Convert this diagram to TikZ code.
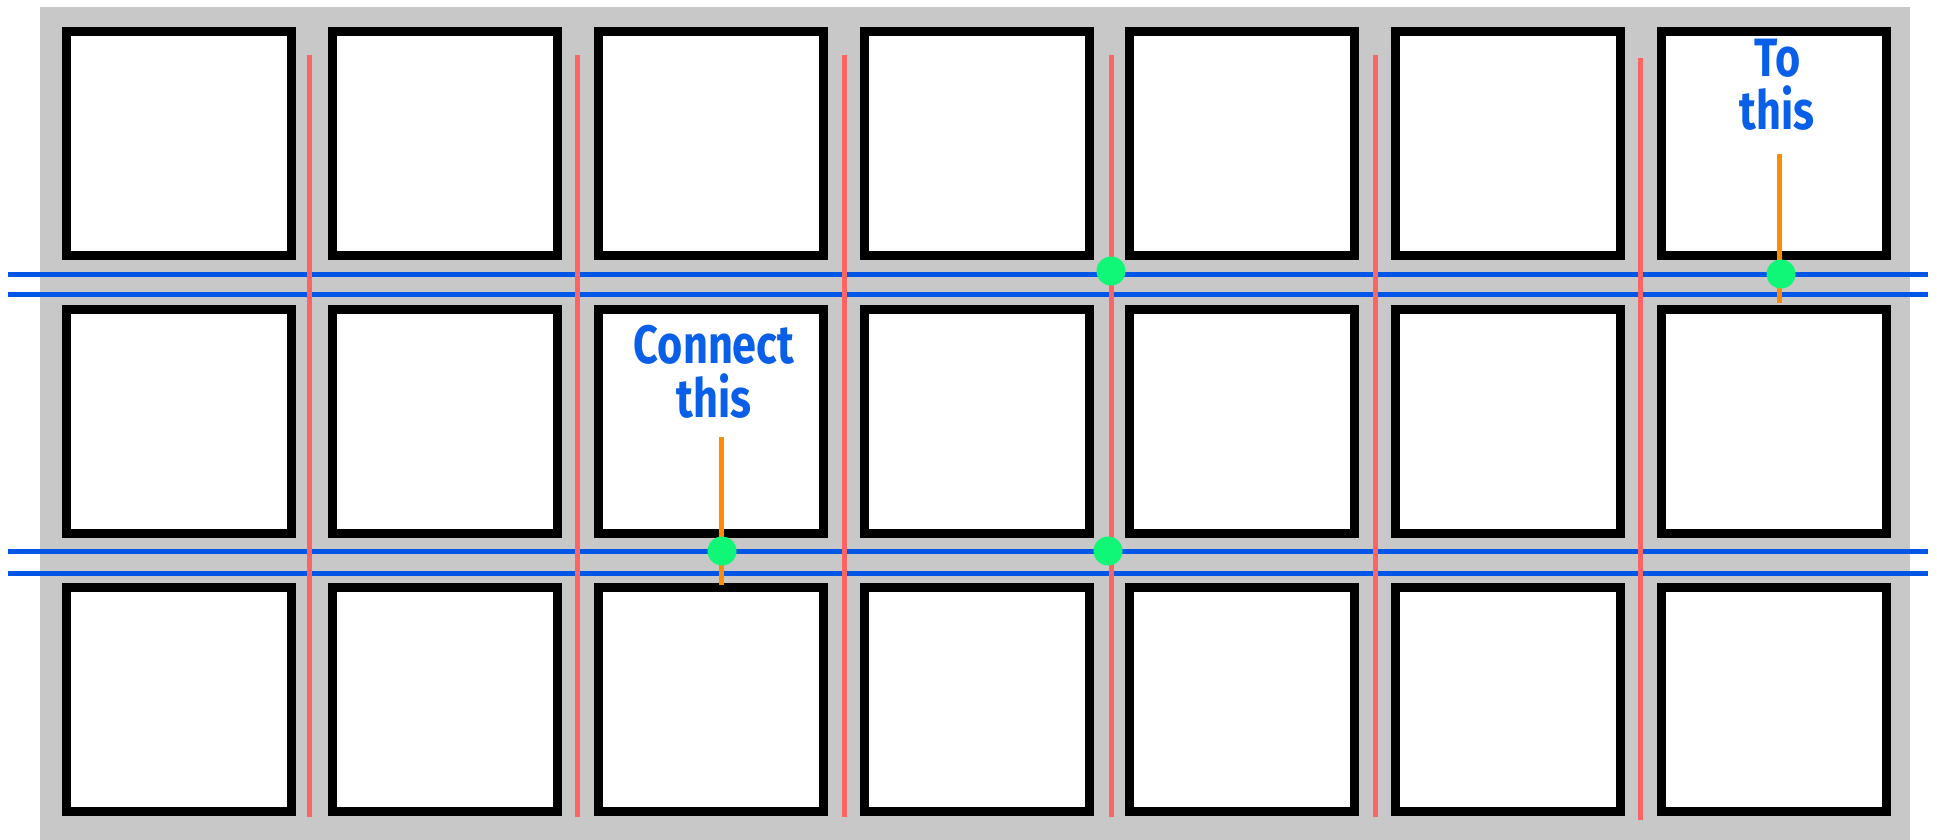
\documentclass[tikz,border=0pt]{standalone}
\usepackage{fontspec}
\newfontfamily\labelfont[FakeStretch=0.8]{Fira Sans Bold}
\definecolor{bggray}{HTML}{C8C8C8}
\definecolor{redline}{HTML}{FF6464}
\definecolor{blueline}{HTML}{0057E7}
\definecolor{greendot}{HTML}{10F778}
\definecolor{orangeline}{HTML}{FF8C00}
\definecolor{labelblue}{HTML}{0A5FE8}
\tikzset{
  cell/.style={draw=black, fill=white, line width=9pt, minimum width=225pt, minimum height=224pt, inner sep=0pt, outer sep=0pt},
  redrule/.style={draw=redline, line width=5pt},
  bluerule/.style={draw=blueline, line width=5pt},
  orangerule/.style={draw=orangeline, line width=5pt},
  dot/.style={circle, fill=greendot, minimum size=29pt, inner sep=0pt},
  lbl/.style={text=labelblue, font=\labelfont\fontsize{54}{58}\selectfont, anchor=base, inner sep=0pt}
}
\begin{document}
\begin{tikzpicture}[x=1pt, y=-1pt]
\useasboundingbox (0,0) rectangle (1937,840);
\fill[bggray] (40,7) rectangle (1910,840);
% cells
\foreach \r in {0,1,2}{
  \foreach \c in {0,...,6}{
    \node[cell] (cell-\r-\c) at ({62+265.83*\c+117},{27+278*\r+116.5}) {};
  }
}
% blue rules
\coordinate (b1l) at (8,274);   \coordinate (b1r) at (1928,274);
\coordinate (b2l) at (8,294);   \coordinate (b2r) at (1928,294);
\coordinate (b3l) at (8,551);   \coordinate (b3r) at (1928,551);
\coordinate (b4l) at (8,573);   \coordinate (b4r) at (1928,573);
\draw[bluerule] (b1l) -- (b1r);
\draw[bluerule] (b2l) -- (b2r);
\draw[bluerule] (b3l) -- (b3r);
\draw[bluerule] (b4l) -- (b4r);
% red rules
\foreach \i/\x in {1/309,2/577,3/844,4/1111,5/1375}{
  \coordinate (r\i t) at (\x,55);
  \coordinate (r\i b) at (\x,817);
  \draw[redrule] (r\i t) -- (r\i b);
}
\coordinate (r6t) at (1640,58);
\coordinate (r6b) at (1640,820);
\draw[redrule] (r6t) -- (r6b);
% orange connectors
\coordinate (o1t) at (721,437); \coordinate (o1b) at (721,585);
\coordinate (o2t) at (1779,154); \coordinate (o2b) at (1779,303);
\draw[orangerule] (o1t) -- (o1b);
\draw[orangerule] (o2t) -- (o2b);
% green dots
\node[dot] (d1) at (1111,271) {};
\node[dot] (d2) at (1781,274) {};
\node[dot] (d3) at (722,551) {};
\node[dot] (d4) at (1108,551) {};
% labels
\node[lbl] (connect) at (714,363) {Connect};
\node[lbl] (this1) at (714,417) {this};
\node[lbl] (to) at (1778,77) {To};
\node[lbl] (this2) at (1777,130) {this};
\end{tikzpicture}
\end{document}
